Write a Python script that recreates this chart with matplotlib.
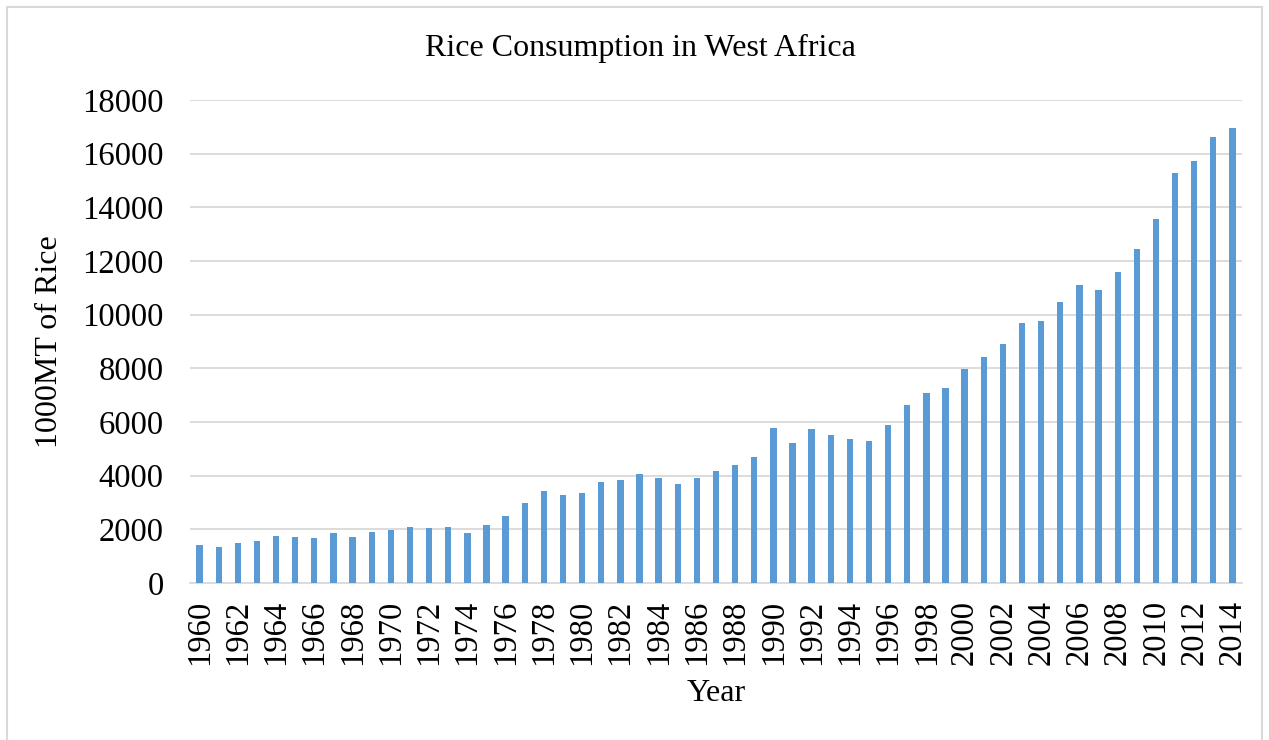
import numpy as np
import matplotlib.pyplot as plt
from matplotlib.patches import Rectangle

# lata i spożycie ryżu (1000 MT)
years = list(range(1960, 2015))
consumption = [
    1430, 1355, 1500, 1550, 1750, 1700, 1675, 1860, 1725, 1900,
    1960, 2075, 2035, 2075, 1875, 2160, 2485, 2990, 3415, 3290,
    3365, 3750, 3850, 4060, 3925, 3700, 3900, 4165, 4390, 4710,
    5770, 5200, 5745, 5505, 5360, 5285, 5905, 6620, 7065, 7255,
    7975, 8435, 8905, 9680, 9765, 10475, 11120, 10910, 11580, 12450,
    13560, 15290, 15725, 16605, 16945,
]
tick_labels = [str(y) if y % 2 == 0 else "" for y in years]

plt.rcParams['font.family'] = ['Liberation Serif', 'DejaVu Serif']

fig = plt.figure(figsize=(12.69, 7.40), dpi=100)
ax = fig.add_axes([190 / 1269, 1 - 583 / 740, 1052 / 1269, 483 / 740])

# ramka wokół wykresu
fig.patches.append(Rectangle((7 / 1269, -0.01), 1255 / 1269, 1 - 7 / 740 + 0.01,
                             transform=fig.transFigure, fill=False,
                             edgecolor='#d9d9d9', linewidth=1.5))

x = np.arange(len(years))
ax.bar(x, consumption, width=0.33, color='#5b9bd5', zorder=3)

ax.set_xlim(-0.5, len(years) - 0.5)
ax.set_ylim(0, 18000)
ax.set_yticks(range(0, 18001, 2000))
ax.set_xticks(x)
ax.set_xticklabels(tick_labels, rotation=90)
ax.tick_params(axis='both', length=0, labelsize=23.5)
ax.tick_params(axis='y', pad=19)
ax.tick_params(axis='x', pad=12)

ax.grid(axis='y', color='#d9d9d9', linewidth=1.3, zorder=0)
for s in ['top', 'right', 'left']:
    ax.spines[s].set_visible(False)
ax.spines['bottom'].set_color('#d9d9d9')
ax.spines['bottom'].set_linewidth(1.3)

fig.text(640 / 1269, 1 - 48 / 740, "Rice Consumption in West Africa",
         fontsize=23, ha='center', va='center')
ax.set_xlabel("Year", fontsize=23, labelpad=10)
ax.set_ylabel("1000MT of Rice", fontsize=23, labelpad=13)

fig.savefig('out.png', dpi=100)
